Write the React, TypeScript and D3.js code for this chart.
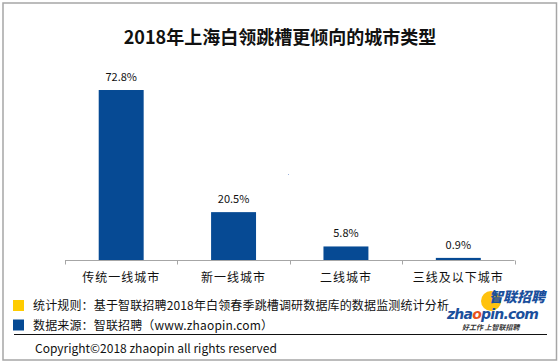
import React, { useEffect, useRef } from "react";
import * as d3 from "d3";

const categories = ["传统一线城市", "新一线城市", "二线城市", "三线及以下城市"];
const values = [72.8, 20.5, 5.8, 0.9];
const legendItems = [
  { color: "#FFCC00", text: "统计规则：基于智联招聘2018年白领春季跳槽调研数据库的数据监测统计分析" },
  { color: "#064A94", text: "数据来源：智联招聘（www.zhaopin.com）" },
];
const title = "2018年上海白领跳槽更倾向的城市类型";
const copyright = "Copyright©2018 zhaopin all rights reserved";

const FONT = "'Noto Sans CJK SC', 'Noto Sans', sans-serif";

export default function App() {
  const ref = useRef<SVGSVGElement>(null);

  useEffect(() => {
    const svg = d3.select(ref.current);
    svg.selectAll("*").remove();

    const W = 559;
    const H = 363;

    // outer frame
    svg.append("rect")
      .attr("x", 3).attr("y", 3)
      .attr("width", W - 5.5).attr("height", H - 6)
      .attr("fill", "#fff")
      .attr("stroke", "#a6a6a6")
      .attr("stroke-width", 1.5);

    // title
    svg.append("text")
      .attr("x", 280).attr("y", 44)
      .attr("text-anchor", "middle")
      .style("font-family", FONT)
      .style("font-size", "18px")
      .style("font-weight", "700")
      .attr("fill", "#111")
      .text(title);

    const x = d3.scaleBand<string>().domain(categories).range([65, 514.5]).paddingInner(0.6).paddingOuter(0.3);
    const y = d3.scaleLinear().domain([0, 80]).range([260, 73.2]);

    // bars
    svg.append("g").selectAll("rect")
      .data(values)
      .join("rect")
      .attr("x", (_, i) => x(categories[i])!)
      .attr("width", x.bandwidth())
      .attr("y", (d) => y(d))
      .attr("height", (d) => y(0) - y(d))
      .attr("fill", "#064A94");

    // value labels
    svg.append("g").selectAll("text")
      .data(values)
      .join("text")
      .attr("x", (_, i) => x(categories[i])! + x.bandwidth() / 2)
      .attr("y", (d) => y(d) - 9)
      .attr("text-anchor", "middle")
      .style("font-family", FONT)
      .style("font-size", "11px")
      .attr("fill", "#111")
      .text((d) => d.toFixed(1) + "%");

    // stray speck seen in the original
    svg.append("rect").attr("x", 288).attr("y", 174).attr("width", 1).attr("height", 1).attr("fill", "#9db3dd");

    // axis
    const axisY = 260.5;
    const ax = svg.append("g").attr("stroke", "#a6a6a6").attr("stroke-width", 1);
    ax.append("line").attr("x1", 65).attr("x2", 514.5).attr("y1", axisY).attr("y2", axisY);
    const step = x.step();
    d3.range(categories.length + 1).forEach((i) => {
      const tx = Math.round(65 + i * step) + 0.5;
      ax.append("line").attr("x1", tx).attr("x2", tx).attr("y1", axisY).attr("y2", axisY + 4);
    });

    svg.append("g").selectAll("text")
      .data(categories)
      .join("text")
      .attr("x", (d) => x(d)! + x.bandwidth() / 2)
      .attr("y", 282)
      .attr("text-anchor", "middle")
      .style("font-family", FONT)
      .style("font-size", "12px")
      .style("letter-spacing", "1px")
      .attr("fill", "#111")
      .text((d) => d);

    // legend
    legendItems.forEach((it, i) => {
      const ly = 305.5 + i * 19.5;
      svg.append("rect")
        .attr("x", 13).attr("y", ly - 5.5)
        .attr("width", 11).attr("height", 11)
        .attr("fill", it.color);
      svg.append("text")
        .attr("x", 33).attr("y", ly + 4.5)
        .style("font-family", FONT)
        .style("font-size", "12px")
        .style("letter-spacing", "0.15px")
        .attr("fill", "#111")
        .text(it.text);
    });

    // separator + copyright
    svg.append("line")
      .attr("x1", 14).attr("x2", 547)
      .attr("y1", 334.5).attr("y2", 334.5)
      .attr("stroke", "#111").attr("stroke-width", 1);
    svg.append("text")
      .attr("x", 35).attr("y", 352.5)
      .style("font-family", FONT)
      .style("font-size", "12px")
      .attr("fill", "#111")
      .text(copyright);

    // logo
    const logo = svg.append("g").attr("transform", "translate(447,289)");
    logo.append("circle").attr("cx", 44).attr("cy", 12).attr("r", 10).attr("fill", "#FFC20E");
    logo.append("text")
      .attr("x", 98).attr("y", 13)
      .attr("text-anchor", "end")
      .style("font-family", FONT)
      .style("font-size", "14px")
      .style("font-weight", "900")
      .style("font-style", "italic")
      .attr("fill", "#1B4F9C")
      .text("智联招聘");
    const z = logo.append("text")
      .attr("x", 0).attr("y", 30)
      .style("font-family", "'DejaVu Sans', sans-serif")
      .style("font-size", "14px")
      .style("font-weight", "700")
      .style("font-style", "italic")
      .style("letter-spacing", "-0.8px")
      .attr("fill", "#1B4F9C");
    z.append("tspan").text("zha");
    z.append("tspan").attr("fill", "#E8541E").text("o");
    z.append("tspan").text("pin.com");
    logo.append("text")
      .attr("x", 15).attr("y", 41)
      .style("font-family", FONT)
      .style("font-size", "7px")
      .style("font-weight", "700")
      .style("font-style", "italic")
      .attr("fill", "#333")
      .text("好工作  上智联招聘");
  }, []);

  return (
    <svg
      ref={ref}
      width={559}
      height={363}
      style={{ position: "absolute", left: 0, top: 0, background: "#fff" }}
    />
  );
}
